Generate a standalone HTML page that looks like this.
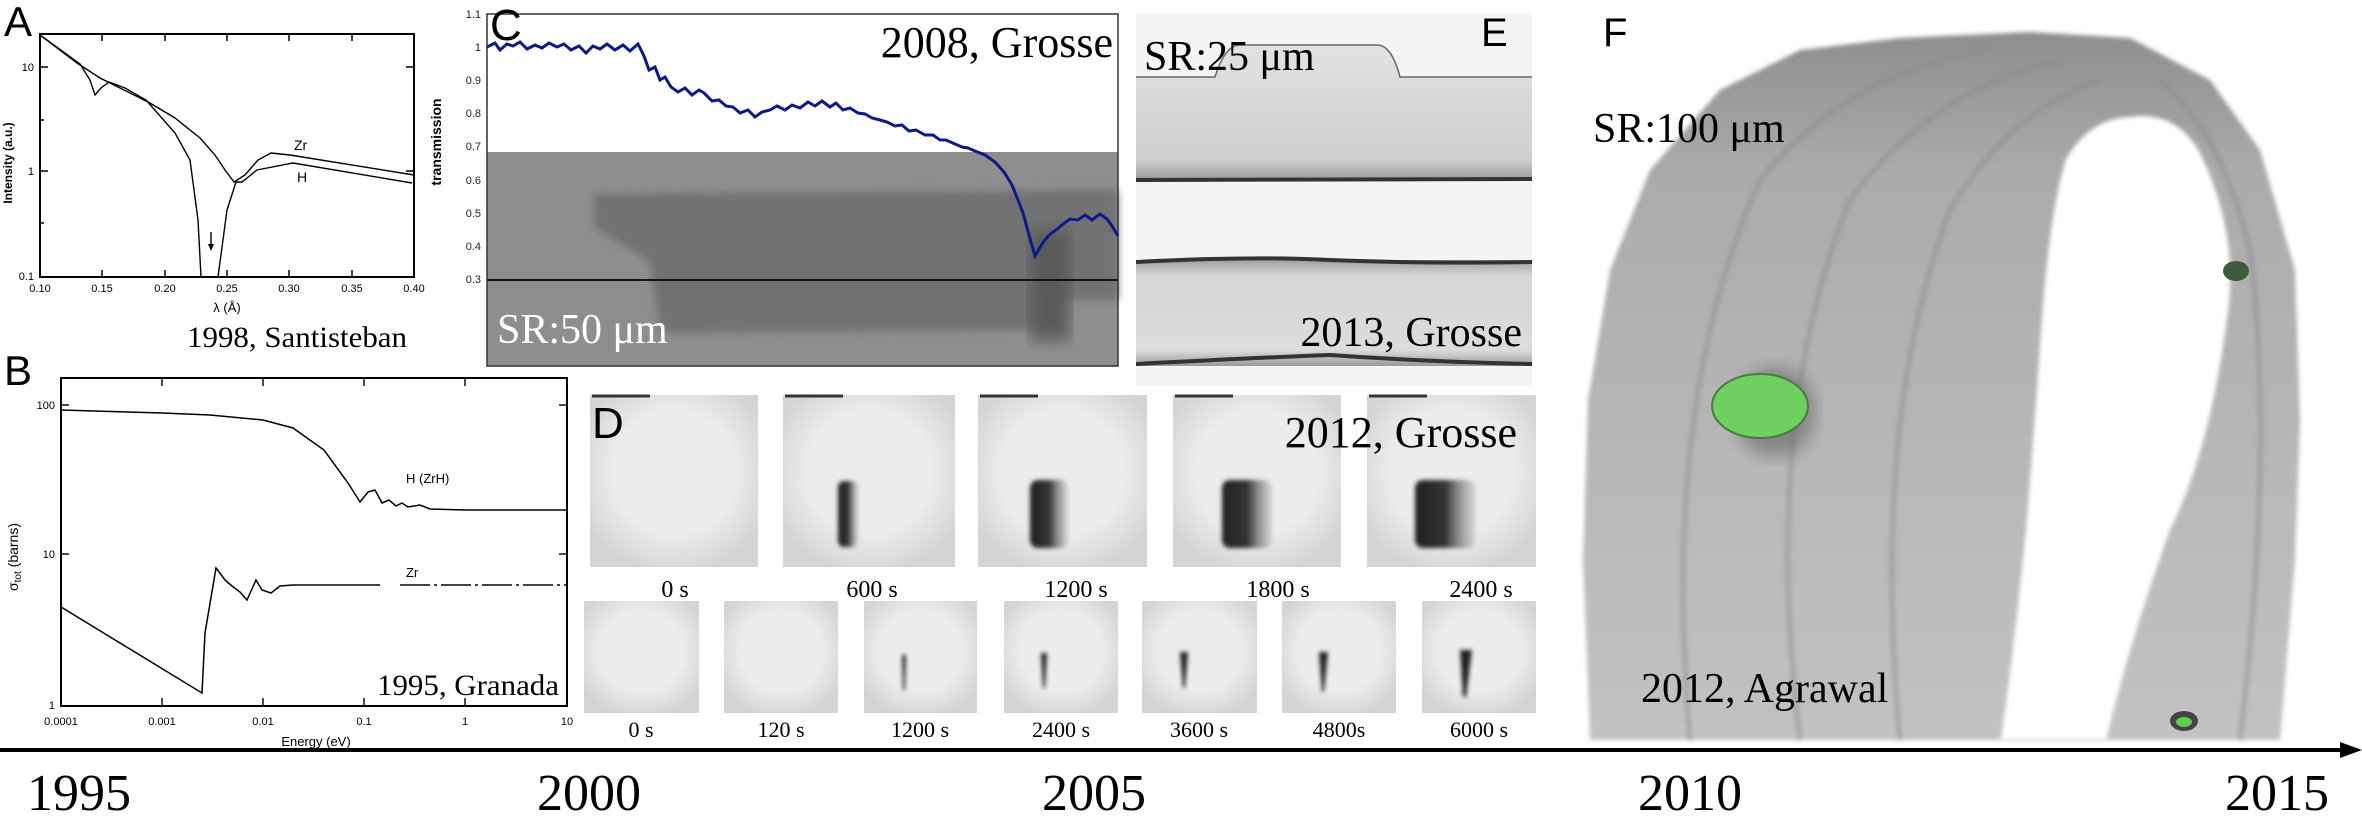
<!DOCTYPE html>
<html><head><meta charset="utf-8"><style>
html,body{margin:0;padding:0;background:#fff;}
svg{display:block;}
.serif{font-family:"Liberation Serif",serif;}
.sans{font-family:"Liberation Sans",sans-serif;}
</style></head><body>
<svg width="2362" height="832" viewBox="0 0 2362 832" xmlns="http://www.w3.org/2000/svg">
<defs>
<filter id="blur4"><feGaussianBlur stdDeviation="4"/></filter>
<filter id="blur8"><feGaussianBlur stdDeviation="8"/></filter>
<filter id="blur2"><feGaussianBlur stdDeviation="2"/></filter>
<linearGradient id="eband" x1="0" y1="0" x2="0" y2="1"><stop offset="0" stop-color="#e2e2e2"/><stop offset="0.85" stop-color="#cfcfcf"/><stop offset="1" stop-color="#9a9a9a"/></linearGradient>
<linearGradient id="eband2" x1="0" y1="0" x2="0" y2="1"><stop offset="0" stop-color="#a0a0a0"/><stop offset="0.15" stop-color="#d6d6d6"/><stop offset="0.85" stop-color="#dcdcdc"/><stop offset="1" stop-color="#9a9a9a"/></linearGradient>
<radialGradient id="dimg" cx="0.5" cy="0.45" r="0.6"><stop offset="0.6" stop-color="#ececec"/><stop offset="1" stop-color="#d4d4d4"/></radialGradient>
<linearGradient id="blob" x1="0" y1="0" x2="1" y2="0"><stop offset="0" stop-color="#222"/><stop offset="0.5" stop-color="#333"/><stop offset="1" stop-color="#999" stop-opacity="0.3"/></linearGradient>
<linearGradient id="ring" x1="0" y1="0" x2="0" y2="1"><stop offset="0" stop-color="#8e8e8e"/><stop offset="0.2" stop-color="#ababab"/><stop offset="1" stop-color="#c2c2c2"/></linearGradient>
</defs>

<!-- ===== Panel A ===== -->
<text x="4" y="36" class="sans" font-size="42">A</text>
<rect x="40" y="34" width="374" height="243" fill="none" stroke="#000" stroke-width="2"/>
<g stroke="#000" stroke-width="1.5">
<line x1="40" y1="67" x2="48" y2="67"/><line x1="40" y1="171" x2="48" y2="171"/>
<line x1="406" y1="67" x2="414" y2="67"/><line x1="406" y1="171" x2="414" y2="171"/>
<line x1="40" y1="120" x2="44" y2="120"/><line x1="40" y1="223" x2="44" y2="223"/>
<line x1="102" y1="277" x2="102" y2="270"/><line x1="165" y1="277" x2="165" y2="270"/><line x1="227" y1="277" x2="227" y2="270"/><line x1="289" y1="277" x2="289" y2="270"/><line x1="352" y1="277" x2="352" y2="270"/>
<line x1="102" y1="34" x2="102" y2="41"/><line x1="165" y1="34" x2="165" y2="41"/><line x1="227" y1="34" x2="227" y2="41"/><line x1="289" y1="34" x2="289" y2="41"/><line x1="352" y1="34" x2="352" y2="41"/>
</g>
<g class="sans" font-size="11" text-anchor="middle">
<text x="40" y="292">0.10</text><text x="102" y="292">0.15</text><text x="165" y="292">0.20</text><text x="227" y="292">0.25</text><text x="289" y="292">0.30</text><text x="352" y="292">0.35</text><text x="414" y="292">0.40</text>
<text x="227" y="312" font-size="13">λ (Å)</text>
</g>
<g class="sans" font-size="11" text-anchor="end"><text x="34" y="71">10</text><text x="34" y="175">1</text><text x="34" y="280">0.1</text></g>
<text class="sans" font-size="12" font-weight="bold" transform="translate(12,163) rotate(-90)" text-anchor="middle">Intensity (a.u.)</text>
<g fill="none" stroke="#000" stroke-width="1.4">
<polyline points="40,35 77,63 100,78 120,88 150,103 175,118 200,138 215,155 225,170 234,182 245,175 258,160 271,153 290,155 414,175"/>
<polyline points="40,35 80,64 90,80 95,95 101,88 109,82 125,88 146,100 175,133 190,160 198,220 201,277"/>
<polyline points="218,277 227,210 236,182 242,182 257,170 293,163 412,183"/>
<line x1="211" y1="232" x2="211" y2="248"/>
</g>
<polygon points="208,244 214,244 211,251" fill="#000"/>
<text x="294" y="150" class="sans" font-size="14">Zr</text>
<text x="297" y="182" class="sans" font-size="14">H</text>
<text x="187" y="347" class="serif" font-size="30" textLength="220" lengthAdjust="spacingAndGlyphs">1998, Santisteban</text>

<!-- ===== Panel B ===== -->
<text x="4" y="385" class="sans" font-size="42">B</text>
<rect x="61" y="378" width="506" height="328" fill="none" stroke="#000" stroke-width="2"/>
<g stroke="#000" stroke-width="1.4">
<line x1="61" y1="405" x2="69" y2="405"/><line x1="61" y1="554" x2="69" y2="554"/>
<line x1="559" y1="405" x2="567" y2="405"/><line x1="559" y1="554" x2="567" y2="554"/>
<line x1="162" y1="706" x2="162" y2="698"/><line x1="263" y1="706" x2="263" y2="698"/><line x1="364" y1="706" x2="364" y2="698"/><line x1="465" y1="706" x2="465" y2="698"/>
<line x1="162" y1="378" x2="162" y2="386"/><line x1="263" y1="378" x2="263" y2="386"/><line x1="364" y1="378" x2="364" y2="386"/><line x1="465" y1="378" x2="465" y2="386"/>
</g>
<g class="sans" font-size="11" text-anchor="end"><text x="55" y="409">100</text><text x="55" y="558">10</text><text x="55" y="709">1</text></g>
<g class="sans" font-size="11" text-anchor="middle">
<text x="61" y="725">0.0001</text><text x="162" y="725">0.001</text><text x="263" y="725">0.01</text><text x="364" y="725">0.1</text><text x="465" y="725">1</text><text x="567" y="725">10</text>
<text x="316" y="746" font-size="13">Energy (eV)</text>
</g>
<text class="sans" font-size="14" transform="translate(18,557) rotate(-90)" text-anchor="middle">σ<tspan font-size="10" dy="3">tot</tspan><tspan dy="-3"> (barns)</tspan></text>
<g fill="none" stroke="#000" stroke-width="1.5">
<polyline points="61,410 162,413 210,415 263,420 293,428 324,450 348,483 360,502 368,492 375,490 382,503 389,500 396,506 402,503 408,507 420,505 430,509 465,510 566,510"/>
<polyline points="61,607 202,693 205,633 216,568 225,580 232,586 240,592 247,600 256,580 262,590 271,593 280,586 293,585 380,585"/>
<polyline points="400,585 566,585" stroke-dasharray="30,4,3,4"/>
</g>
<text x="406" y="483" class="sans" font-size="13">H (ZrH)</text>
<text x="406" y="577" class="sans" font-size="13">Zr</text>
<text x="559" y="695" class="serif" font-size="30" text-anchor="end" textLength="182" lengthAdjust="spacingAndGlyphs">1995, Granada</text>

<!-- ===== Panel C ===== -->
<rect x="487" y="152" width="631" height="214" fill="#8e8e8e"/>
<polygon points="594,194 1118,190 1118,300 1041,300 1040,330 660,333 650,262 594,227" fill="#727272" filter="url(#blur4)"/>
<rect x="1030" y="230" width="40" height="110" fill="#5a5a5a" filter="url(#blur8)"/>
<line x1="487" y1="280" x2="1118" y2="280" stroke="#111" stroke-width="2"/>
<rect x="487" y="14" width="631" height="352" fill="none" stroke="#333" stroke-width="1.5"/>
<g class="sans" font-size="11" text-anchor="end" fill="#222">
<text x="481" y="18">1.1</text><text x="481" y="51">1</text><text x="481" y="84">0.9</text><text x="481" y="117">0.8</text><text x="481" y="150">0.7</text><text x="481" y="184">0.6</text><text x="481" y="217">0.5</text><text x="481" y="250">0.4</text><text x="481" y="283">0.3</text>
</g>
<text class="sans" font-size="14" font-weight="bold" transform="translate(441,142) rotate(-90)" text-anchor="middle">transmission</text>
<polyline fill="none" stroke="#0a1a8a" stroke-width="3" points="487,47 495,43 500,50 507,44 513,46 520,42 527,49 535,45 542,48 549,43 557,47 564,44 571,50 579,46 586,53 593,46 600,49 607,44 615,50 623,45 630,51 638,44 644,56 649,70 655,67 660,80 665,77 671,87 678,92 685,88 692,95 699,90 704,93 712,101 719,100 726,106 733,107 740,113 748,110 755,117 762,112 770,110 777,106 785,110 792,105 800,108 808,102 815,106 822,101 830,107 836,103 843,110 850,108 858,113 865,114 872,118 880,120 887,122 895,126 902,125 909,131 916,130 925,135 933,135 940,140 946,140 955,144 962,147 968,148 975,151 985,155 995,162 1004,172 1012,185 1018,200 1023,213 1029,235 1035,256 1042,244 1049,235 1056,230 1063,224 1070,219 1078,220 1085,215 1092,220 1100,214 1107,219 1112,226 1118,236"/>
<text x="490" y="40" class="sans" font-size="44">C</text>
<text x="1113" y="57" class="serif" font-size="44" text-anchor="end">2008, Grosse</text>
<text x="497" y="343" class="serif" font-size="42" fill="#fff">SR:50 μm</text>

<!-- ===== Panel E ===== -->
<rect x="1136" y="13" width="396" height="372" fill="#f4f4f4"/>
<path d="M1136,77 L1215,77 Q1225,45 1240,45 L1378,45 Q1392,46 1400,77 L1532,77 L1532,180 L1136,180 Z" fill="url(#eband)"/>
<path d="M1136,77 L1215,77 Q1225,45 1240,45 L1378,45 Q1392,46 1400,77 L1532,77" fill="none" stroke="#666" stroke-width="1.5"/>
<line x1="1136" y1="180" x2="1532" y2="179" stroke="#333" stroke-width="4"/>
<rect x="1136" y="260" width="396" height="106" fill="url(#eband2)"/>
<path d="M1136,262 Q1250,256 1330,260 Q1430,264 1532,262" fill="none" stroke="#333" stroke-width="4"/>
<path d="M1136,364 Q1250,358 1330,355 Q1430,362 1532,364" fill="none" stroke="#333" stroke-width="4"/>
<text x="1144" y="70" class="serif" font-size="42">SR:25 μm</text>
<text x="1481" y="46" class="sans" font-size="40">E</text>
<text x="1522" y="346" class="serif" font-size="42" text-anchor="end">2013, Grosse</text>

<!-- ===== Panel D ===== -->
<g>
<rect x="590" y="395" width="168" height="172" fill="url(#dimg)"/>
<rect x="783" y="395" width="172" height="172" fill="url(#dimg)"/>
<rect x="978" y="395" width="169" height="172" fill="url(#dimg)"/>
<rect x="1173" y="395" width="168" height="172" fill="url(#dimg)"/>
<rect x="1367" y="395" width="169" height="172" fill="url(#dimg)"/>
<g stroke="#333" stroke-width="3"><line x1="592" y1="396" x2="650" y2="396"/><line x1="785" y1="396" x2="843" y2="396"/><line x1="980" y1="396" x2="1038" y2="396"/><line x1="1175" y1="396" x2="1233" y2="396"/><line x1="1369" y1="396" x2="1427" y2="396"/></g>
<g filter="url(#blur2)">
<rect x="838" y="481" width="20" height="66" rx="6" fill="url(#blob)"/>
<rect x="1030" y="480" width="38" height="68" rx="8" fill="url(#blob)"/>
<rect x="1222" y="480" width="50" height="68" rx="8" fill="url(#blob)"/>
<rect x="1415" y="480" width="60" height="68" rx="8" fill="url(#blob)"/>
</g>
<g class="serif" font-size="24" text-anchor="middle">
<text x="675" y="597">0 s</text><text x="872" y="597">600 s</text><text x="1076" y="597">1200 s</text><text x="1278" y="597">1800 s</text><text x="1481" y="597">2400 s</text>
</g>
<rect x="584" y="601" width="115" height="112" fill="url(#dimg)"/>
<rect x="724" y="601" width="114" height="112" fill="url(#dimg)"/>
<rect x="864" y="601" width="113" height="112" fill="url(#dimg)"/>
<rect x="1004" y="601" width="114" height="112" fill="url(#dimg)"/>
<rect x="1142" y="601" width="115" height="112" fill="url(#dimg)"/>
<rect x="1282" y="601" width="114" height="112" fill="url(#dimg)"/>
<rect x="1422" y="601" width="114" height="112" fill="url(#dimg)"/>
<g fill="#222" filter="url(#blur2)">
<polygon points="902,655 906,655 905,690 903,690"/>
<polygon points="1041,653 1047,653 1045,688 1043,688"/>
<polygon points="1180,652 1188,652 1185,688 1183,688"/>
<polygon points="1319,652 1328,652 1324,692 1322,692"/>
<polygon points="1460,650 1472,650 1466,697 1463,697"/>
</g>
<g class="serif" font-size="22" text-anchor="middle">
<text x="641" y="737">0 s</text><text x="781" y="737">120 s</text><text x="920" y="737">1200 s</text><text x="1061" y="737">2400 s</text><text x="1199" y="737">3600 s</text><text x="1339" y="737">4800s</text><text x="1479" y="737">6000 s</text>
</g>
<text x="592" y="438" class="sans" font-size="44">D</text>
<text x="1517" y="447" class="serif" font-size="44" text-anchor="end">2012, Grosse</text>
</g>

<!-- ===== Panel F ===== -->
<path d="M1590,740 L1583,560 L1588,400 L1610,270 L1650,170 L1720,90 L1800,50 L1900,38 L2030,32 L2130,38 L2210,80 L2260,150 L2295,270 L2300,420 L2295,560 L2280,740 Z" fill="url(#ring)" filter="url(#blur2)"/>
<g fill="none" stroke="#8a8a8a" stroke-width="5" opacity="0.5" filter="url(#blur2)">
<path d="M1690,740 Q1660,400 1760,180 Q1850,70 1990,50"/>
<path d="M1800,740 Q1760,420 1850,200 Q1930,90 2060,60"/>
<path d="M1900,740 Q1870,420 1950,210 Q2010,110 2100,80"/>
<path d="M2240,740 Q2275,450 2250,250 Q2220,130 2160,80"/>
</g>
<path d="M2130,117 Q2180,110 2203,159 Q2240,240 2227,318 Q2210,450 2170,530 Q2130,640 2106,740 L2001,740 Q2015,640 2026,530 Q2035,420 2042,318 Q2050,210 2066,159 Q2090,118 2130,117 Z" fill="#fff" filter="url(#blur2)"/>
<ellipse cx="1775" cy="412" rx="40" ry="45" fill="#666" opacity="0.6" filter="url(#blur8)"/>
<ellipse cx="1760" cy="406" rx="48" ry="32" fill="#6fcf5f"/>
<ellipse cx="1760" cy="406" rx="48" ry="32" fill="none" stroke="#4a7a40" stroke-width="2"/>
<ellipse cx="2236" cy="271" rx="13" ry="10" fill="#3f5a3f"/>
<ellipse cx="2184" cy="721" rx="14" ry="10" fill="#444"/>
<ellipse cx="2184" cy="722" rx="8" ry="5" fill="#5bd04a"/>
<text x="1603" y="46" class="sans" font-size="40">F</text>
<text x="1593" y="142" class="serif" font-size="42">SR:100 μm</text>
<text x="1641" y="702" class="serif" font-size="42">2012, Agrawal</text>

<!-- ===== Timeline ===== -->
<line x1="0" y1="750" x2="2345" y2="750" stroke="#000" stroke-width="4"/>
<polygon points="2340,742 2362,750 2340,758" fill="#000"/>
<g class="serif" font-size="52" text-anchor="middle">
<text x="79" y="810">1995</text><text x="589" y="810">2000</text><text x="1094" y="810">2005</text><text x="1690" y="810">2010</text><text x="2277" y="810">2015</text>
</g>
</svg>
</body></html>
